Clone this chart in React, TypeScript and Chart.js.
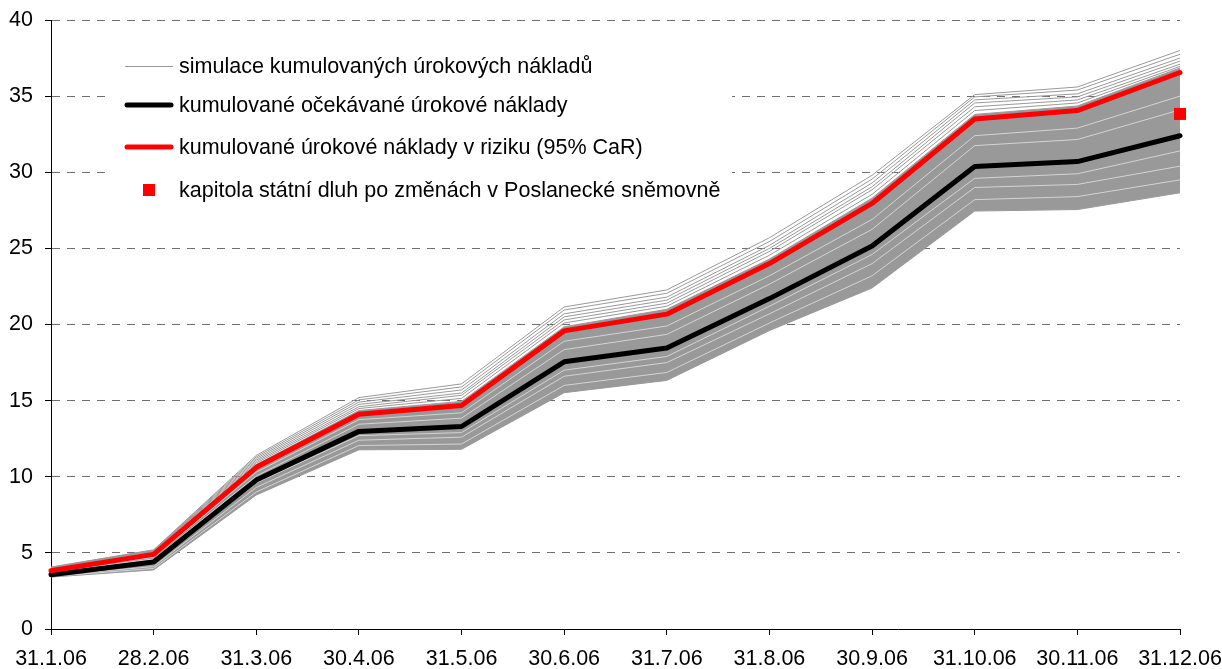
import React, { useEffect, useRef } from 'react';
import { Chart, registerables } from 'chart.js';

Chart.register(...registerables);

// ---- data ----
const labels = ['31.1.06', '28.2.06', '31.3.06', '30.4.06', '31.5.06', '30.6.06', '31.7.06', '31.8.06', '30.9.06', '31.10.06', '30.11.06', '31.12.06'];

const expected = [3.57, 4.4, 9.78, 12.98, 13.3, 17.55, 18.45, 21.7, 25.15, 30.38, 30.7, 32.4];
const car = [3.82, 4.9, 10.62, 14.1, 14.68, 19.58, 20.68, 24.0, 27.95, 33.5, 34.05, 36.55];
const kapitola = [null, null, null, null, null, null, null, null, null, null, null, 33.83];

// dense simulation band (upper / lower envelope of the bulk of simulations)
const bandUpper = [3.9, 5.0, 10.8, 14.35, 14.95, 19.85, 21.0, 24.3, 28.3, 33.8, 34.35, 36.85];
const bandLower = [3.41, 3.88, 8.8, 11.77, 11.8, 15.52, 16.33, 19.6, 22.4, 27.45, 27.55, 28.65];

// individual simulation paths above the dense band
const sim1 = [4.07, 5.2, 11.4, 15.2, 16.1, 21.15, 22.27, 25.7, 29.8, 35.1, 35.6, 38.0];
const sim2 = [4.05, 5.18, 11.3, 15.05, 15.9, 20.95, 22.05, 25.45, 29.55, 34.95, 35.4, 37.75];
const sim3 = [4.02, 5.15, 11.2, 14.9, 15.7, 20.7, 21.8, 25.2, 29.3, 34.75, 35.15, 37.5];
const sim4 = [4.0, 5.12, 11.1, 14.75, 15.5, 20.5, 21.6, 25.0, 29.05, 34.55, 34.95, 37.3];
const sim5 = [3.97, 5.1, 11.0, 14.6, 15.35, 20.3, 21.4, 24.8, 28.85, 34.3, 34.75, 37.1];
const sim6 = [3.95, 5.05, 10.9, 14.48, 15.15, 20.1, 21.2, 24.55, 28.55, 34.05, 34.55, 36.95];
// a few visible paths inside the band
const sim7 = [3.72, 4.6, 10.05, 13.45, 13.85, 18.35, 19.35, 22.65, 26.25, 31.75, 32.15, 34.1];
const sim8 = [3.5, 4.1, 9.3, 12.4, 12.6, 16.6, 17.5, 20.7, 24.0, 29.0, 29.2, 30.4];
const sim9 = [3.62, 4.25, 9.6, 12.7, 12.9, 17.0, 17.9, 21.2, 24.6, 29.6, 29.9, 31.4];
const sim10 = [3.78, 4.72, 10.3, 13.75, 14.2, 18.9, 19.9, 23.2, 26.9, 32.4, 32.9, 35.0];
const sim11 = [3.45, 3.98, 9.0, 12.05, 12.15, 16.0, 16.85, 20.1, 23.2, 28.2, 28.4, 29.5];

const yTicks = { min: 0, max: 40, step: 5 };

const legendTexts = [
  'simulace kumulovaných úrokových nákladů',
  'kumulované očekávané úrokové náklady',
  'kumulované úrokové náklady v riziku (95% CaR)',
  'kapitola státní dluh po změnách v Poslanecké sněmovně',
];

const FONT = '"Liberation Sans", Arial, Helvetica, sans-serif';
const FONT_SIZE = 21.5;
const GREY = 'rgb(153,153,153)';
const LIGHT = 'rgb(212,212,212)';

export default function App() {
  const ref = useRef<HTMLCanvasElement>(null);

  useEffect(() => {
    document.body.style.margin = '0';
    const canvas = ref.current;
    if (!canvas) return;

    const legendPlugin = {
      id: 'boxLegend',
      afterDatasetsDraw(chart: any) {
        const c = chart.ctx as CanvasRenderingContext2D;
        c.save();
        c.fillStyle = '#ffffff';
        c.fillRect(106, 38, 626, 172);
        const rows = [66, 105, 147, 190];
        const x0 = 125, x1 = 173, tx = 179;
        c.lineCap = 'butt';
        c.strokeStyle = GREY;
        c.lineWidth = 1;
        c.beginPath(); c.moveTo(x0, rows[0] + 0.5); c.lineTo(x1, rows[0] + 0.5); c.stroke();
        c.lineCap = 'round';
        c.strokeStyle = '#000000';
        c.lineWidth = 5;
        c.beginPath(); c.moveTo(x0 + 2, rows[1]); c.lineTo(x1 - 2, rows[1]); c.stroke();
        c.strokeStyle = '#ff0000';
        c.beginPath(); c.moveTo(x0 + 2, rows[2]); c.lineTo(x1 - 2, rows[2]); c.stroke();
        c.fillStyle = '#ff0000';
        c.fillRect(143, rows[3] - 6, 12, 12);
        c.fillStyle = '#000000';
        c.font = `${FONT_SIZE}px ${FONT}`;
        c.textBaseline = 'middle';
        c.textAlign = 'left';
        legendTexts.forEach((t, i) => c.fillText(t, tx, rows[i] + 1));
        c.restore();
      },
    };

    const simLine = (data: number[], color: string) => ({
      data,
      borderColor: color,
      borderWidth: 1,
      pointRadius: 0,
      fill: false,
      clip: false as any,
    });

    const chart = new Chart(canvas, {
      type: 'line',
      data: {
        labels,
        datasets: [
          {
            label: legendTexts[3],
            data: kapitola,
            showLine: false,
            pointStyle: 'rect',
            pointRadius: 8.5,
            pointBorderWidth: 0,
            pointBackgroundColor: '#ff0000',
            pointBorderColor: '#ff0000',
            clip: false as any,
          },
          {
            label: legendTexts[2],
            data: car,
            borderColor: '#ff0000',
            borderWidth: 5,
            borderJoinStyle: 'round',
            borderCapStyle: 'round',
            pointRadius: 0,
            clip: false as any,
          },
          {
            label: legendTexts[1],
            data: expected,
            borderColor: '#000000',
            borderWidth: 5,
            borderJoinStyle: 'round',
            borderCapStyle: 'round',
            pointRadius: 0,
            clip: false as any,
          },
          simLine(sim7, LIGHT),
          simLine(sim8, LIGHT),
          simLine(sim9, LIGHT),
          simLine(sim10, LIGHT),
          simLine(sim11, LIGHT),
          simLine(sim1, GREY),
          simLine(sim2, GREY),
          simLine(sim3, GREY),
          simLine(sim4, GREY),
          simLine(sim5, GREY),
          simLine(sim6, GREY),
          {
            label: legendTexts[0],
            data: bandUpper,
            borderColor: GREY,
            borderWidth: 1,
            backgroundColor: GREY,
            pointRadius: 0,
            fill: '+1',
            clip: false as any,
          },
          {
            data: bandLower,
            borderColor: GREY,
            borderWidth: 1,
            pointRadius: 0,
            fill: false,
            clip: false as any,
          },
        ] as any,
      },
      options: {
        responsive: false,
        animation: false,
        layout: { padding: { top: 20, right: 42, left: 0, bottom: 0 } },
        plugins: {
          legend: { display: false },
          tooltip: { enabled: false },
        },
        elements: { line: { tension: 0 } },
        scales: {
          x: {
            type: 'category',
            offset: false,
            afterFit: (s: any) => { s.height = 40; s.paddingLeft = 0; s.paddingRight = 0; },
            grid: {
              drawOnChartArea: false,
              drawTicks: true,
              tickLength: 6,
              tickColor: '#000000',
              tickWidth: 1,
            },
            border: { display: true, color: '#000000', width: 1 },
            ticks: {
              color: '#000000',
              font: { family: FONT, size: FONT_SIZE },
              padding: 11,
              maxRotation: 0,
              autoSkip: false,
            },
          },
          y: {
            min: yTicks.min,
            max: yTicks.max,
            afterFit: (s: any) => { s.width = 51; s.paddingTop = 0; s.paddingBottom = 0; },
            grid: {
              color: (ctx: any) => (ctx.tick && ctx.tick.value === 0 ? 'rgba(0,0,0,0)' : '#6e6e6e'),
              lineWidth: 1,
              drawTicks: true,
              tickLength: 6,
              tickColor: '#000000',
              tickWidth: 1,
              tickBorderDash: [],
            },
            border: { display: true, color: '#000000', width: 1, dash: [8, 7], dashOffset: 0 },
            ticks: {
              stepSize: yTicks.step,
              color: '#000000',
              font: { family: FONT, size: FONT_SIZE },
              padding: 12,
            },
          },
        },
      } as any,
      plugins: [legendPlugin],
    });

    return () => chart.destroy();
  }, []);

  return (
    <div style={{ width: 1222, height: 669 }}>
      <canvas ref={ref} width={1222} height={669} style={{ display: 'block' }} />
    </div>
  );
}
